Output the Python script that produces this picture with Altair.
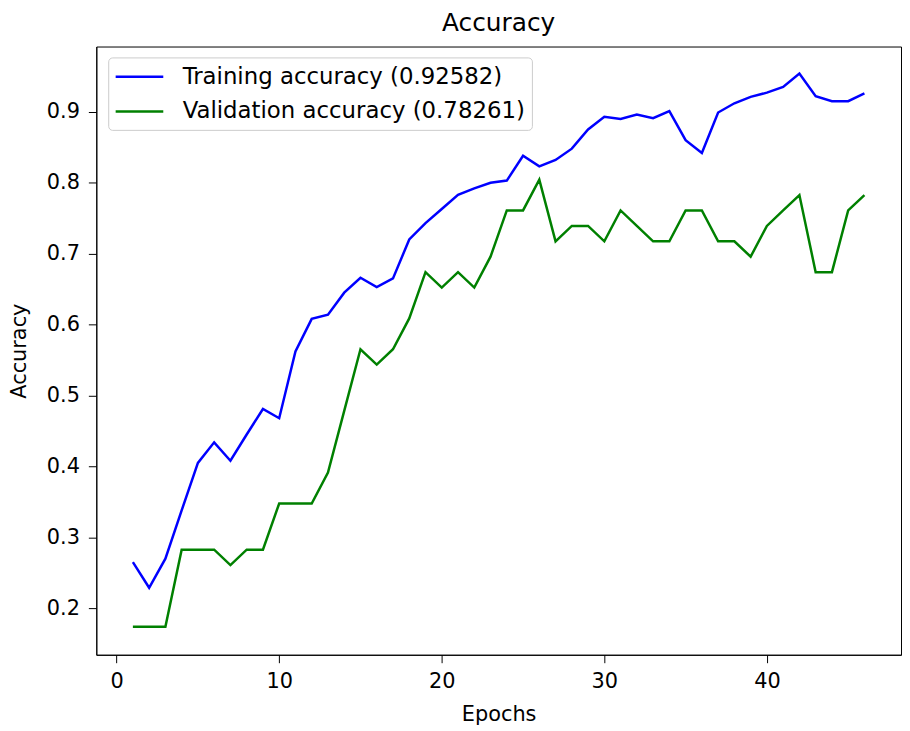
import altair as alt
import pandas as pd

epochs = list(range(1, 47))
train_acc = [0.265, 0.229, 0.270, 0.338, 0.405, 0.434, 0.408, 0.445, 0.481, 0.468,
             0.562, 0.608, 0.614, 0.645, 0.666, 0.653, 0.665, 0.720, 0.743, 0.763,
             0.783, 0.792, 0.800, 0.803, 0.838, 0.823, 0.832, 0.848, 0.875, 0.893,
             0.890, 0.896, 0.891, 0.901, 0.860, 0.842, 0.899, 0.912, 0.921, 0.927,
             0.935, 0.954, 0.922, 0.915, 0.915, 0.92582]
val_acc = [0.1739, 0.1739, 0.1739, 0.2826, 0.2826, 0.2826, 0.2609, 0.2826, 0.2826, 0.3478,
           0.3478, 0.3478, 0.3913, 0.4783, 0.5652, 0.5435, 0.5652, 0.6087, 0.6739, 0.6522,
           0.6739, 0.6522, 0.6957, 0.7609, 0.7609, 0.8043, 0.7174, 0.7391, 0.7391, 0.7174,
           0.7609, 0.7391, 0.7174, 0.7174, 0.7609, 0.7609, 0.7174, 0.7174, 0.6957, 0.7391,
           0.7609, 0.7826, 0.6739, 0.6739, 0.7609, 0.78261]
series_names = ["Training accuracy (0.92582)", "Validation accuracy (0.78261)"]
series_colors = ["#0000ff", "#008000"]
x_ticks = [0, 10, 20, 30, 40]
y_ticks = [0.2, 0.3, 0.4, 0.5, 0.6, 0.7, 0.8, 0.9]

rows = []
for e, t in zip(epochs, train_acc):
    rows.append({"Epoch": e, "Accuracy": t, "Series": series_names[0]})
for e, v in zip(epochs, val_acc):
    rows.append({"Epoch": e, "Accuracy": v, "Series": series_names[1]})
df = pd.DataFrame(rows)

FONT = "DejaVu Sans"

chart = alt.Chart(df).mark_line(strokeWidth=2.5).encode(
    x=alt.X("Epoch:Q",
            scale=alt.Scale(domain=[-1.25, 48.25], nice=False, zero=False),
            axis=alt.Axis(values=x_ticks, title="Epochs", grid=False, format="d",
                          labelPadding=8, titlePadding=12)),
    y=alt.Y("Accuracy:Q",
            scale=alt.Scale(domain=[0.1345, 0.992], nice=False, zero=False),
            axis=alt.Axis(values=y_ticks, title="Accuracy", grid=False, format=".1f",
                          labelPadding=9, titlePadding=17)),
    color=alt.Color("Series:N",
                    scale=alt.Scale(domain=series_names, range=series_colors),
                    sort=series_names,
                    legend=alt.Legend(title=None, orient="none", legendX=12, legendY=11,
                                      symbolType="M-1,0H3", symbolSize=576,
                                      symbolStrokeWidth=2.5,
                                      labelFontSize=23, labelFont=FONT, labelColor="black",
                                      labelLimit=600,
                                      fillColor="white", strokeColor="#cccccc",
                                      cornerRadius=4, padding=6, rowPadding=9,
                                      labelOffset=42)),
).properties(
    width=811, height=613,
    title=alt.TitleParams("Accuracy", fontSize=25, font=FONT, fontWeight="normal",
                          color="black", anchor="middle", offset=11),
    autosize=alt.AutoSizeParams(type="none"),
    padding={"left": 89, "top": 36, "right": 1, "bottom": 73},
).configure_view(
    stroke="black", strokeWidth=1
).configure_axis(
    domainColor="black", tickColor="black", labelColor="black", titleColor="black",
    labelFont=FONT, titleFont=FONT, labelFontSize=21, titleFontSize=21,
    titleFontWeight="normal", tickSize=8,
)

chart.save("out.html", embed_options={"renderer": "svg", "actions": False})
